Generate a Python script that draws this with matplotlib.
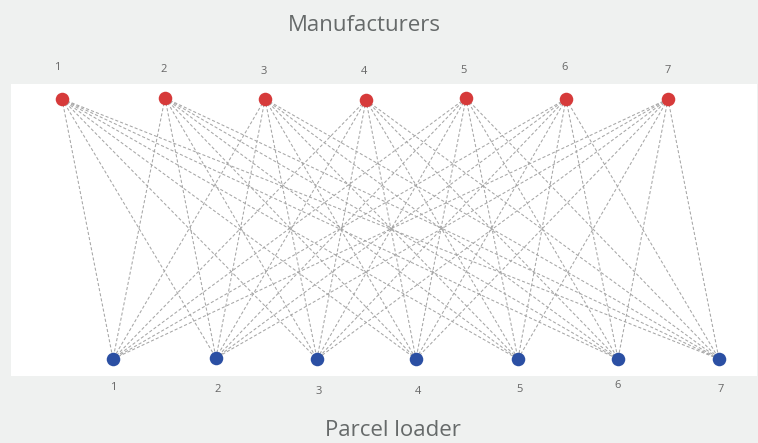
import matplotlib.pyplot as plt
from matplotlib.patches import Rectangle

plt.rcParams['font.family'] = ['Open Sans', 'DejaVu Sans']

# node labels
manufacturers = ['1', '2', '3', '4', '5', '6', '7']
loaders = ['1', '2', '3', '4', '5', '6', '7']

# layout (pixel positions)
top_x = [62, 165, 265, 366, 466, 566, 668]
top_y = [99, 98, 99, 100, 98, 99, 99]
bot_x = [113, 216, 317, 416, 518, 618, 719]
bot_y = [359, 358, 359, 359, 359, 359, 359]
top_lab_x = [57, 164, 264, 364, 464, 565, 668]
top_lab_y = [67, 69, 71, 71, 70, 67, 70]
bot_lab_x = [113, 218, 319, 418, 520, 618, 721]
bot_lab_y = [388, 389, 391, 391, 390, 386, 390]

W, H = 758, 443
fig = plt.figure(figsize=(W / 100, H / 100), dpi=100)
fig.patch.set_facecolor('#eff1f0')
ax = fig.add_axes([0, 0, 1, 1])
ax.set_xlim(0, W)
ax.set_ylim(H, 0)
ax.axis('off')

ax.add_patch(Rectangle((11, 84), 746, 292, facecolor='white', edgecolor='none', zorder=0))

# complete bipartite edges
for xt, yt in zip(top_x, top_y):
    for xb, yb in zip(bot_x, bot_y):
        ax.plot([xt, xb], [yt, yb], linestyle=(0, (3, 2)), color='#a6a6a6',
                linewidth=0.75, zorder=1)

ax.scatter(top_x, top_y, s=95, color='#d63a3a', zorder=3, linewidths=0)
ax.scatter(bot_x, bot_y, s=95, color='#2b4fa3', zorder=3, linewidths=0)

for lab, x, y in zip(manufacturers, top_lab_x, top_lab_y):
    ax.text(x, y, lab, ha='center', va='center', fontsize=8, color='#666666')
for lab, x, y in zip(loaders, bot_lab_x, bot_lab_y):
    ax.text(x, y, lab, ha='center', va='center', fontsize=8, color='#666666')

ax.text(364, 25, 'Manufacturers', ha='center', va='center', fontsize=16, color='#666a6a')
ax.text(393, 430, 'Parcel loader', ha='center', va='center', fontsize=16, color='#666a6a')

fig.savefig('out.png', dpi=100, facecolor=fig.get_facecolor())
